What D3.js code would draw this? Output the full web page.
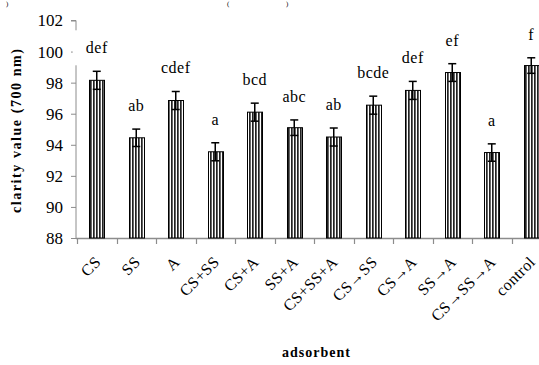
<!DOCTYPE html>
<html>
<head>
<meta charset="utf-8">
<script src="https://cdn.jsdelivr.net/npm/d3@7"></script>
<style>
  html, body { margin: 0; padding: 0; background: #fff; }
  svg { display: block; }
  text { font-family: "Liberation Serif", "Times New Roman", serif; fill: #000; }
</style>
</head>
<body>
<div id="chart"></div>
<script>
// Clarity value (700 nm) by adsorbent treatment, mean ± error, with significance letters
const categories = ["CS", "SS", "A", "CS+SS", "CS+A", "SS+A", "CS+SS+A", "CS\u2192SS", "CS\u2192A", "SS\u2192A", "CS\u2192SS\u2192A", "control"];
const clarity = [98.15, 94.45, 96.85, 93.55, 96.1, 95.1, 94.5, 96.55, 97.5, 98.65, 93.5, 99.1];
const errors = [0.58, 0.56, 0.58, 0.58, 0.58, 0.5, 0.58, 0.58, 0.58, 0.57, 0.56, 0.5];
const letters = ["def", "ab", "cdef", "a", "bcd", "abc", "ab", "bcde", "def", "ef", "a", "f"];
const yTicks = [88, 90, 92, 94, 96, 98, 100, 102];

const W = 539, H = 365;
const svg = d3.select("#chart").append("svg").attr("width", W).attr("height", H);

// vertical-line hatch used for the bar fill
const defs = svg.append("defs");
const pat = defs.append("pattern").attr("id", "vhatch")
  .attr("patternUnits", "userSpaceOnUse").attr("width", 3).attr("height", 4);
pat.append("rect").attr("width", 3).attr("height", 4).attr("fill", "#fff");
pat.append("rect").attr("x", 0).attr("width", 1).attr("height", 4).attr("fill", "#222");
pat.append("rect").attr("x", 1).attr("width", 1).attr("height", 4).attr("fill", "#666");

const x = d3.scaleBand().domain(categories).range([77, 77 + 12 * 39.5]).padding(0);
const y = d3.scaleLinear().domain([88, 102]).range([238, 20.5]);
const barW = 15;
const axisColor = "#8c8c8c";

// y axis
const yAxis = svg.append("g").attr("transform", "translate(76,0)")
  .call(d3.axisLeft(y).tickValues(yTicks).tickSize(5).tickPadding(8).tickFormat(d3.format("d")));
yAxis.select(".domain").attr("stroke", axisColor).attr("d", `M-5,${y(102)}H0V${y(88)}`);
yAxis.selectAll(".tick line").attr("stroke", axisColor);
yAxis.selectAll(".tick text").style("font-size", "17px").attr("fill", "#000");

// x axis: ticks at category boundaries
const xg = svg.append("g").attr("transform", `translate(0,${y(88)})`);
xg.append("line").attr("x1", 76).attr("x2", W).attr("y1", 0.5).attr("y2", 0.5)
  .attr("stroke", axisColor).attr("stroke-width", 1.3);
xg.selectAll("line.tk").data(categories).join("line").attr("class", "tk")
  .attr("x1", d => Math.round(x(d)) + 0.5).attr("x2", d => Math.round(x(d)) + 0.5)
  .attr("y1", 0).attr("y2", 6).attr("stroke", axisColor).attr("stroke-width", 1.2);

xg.selectAll("text.cat").data(categories).join("text").attr("class", "cat")
  .attr("text-anchor", "end")
  .style("font-size", "16px").style("letter-spacing", "0.4px")
  .attr("transform", d => `translate(${x(d) + x.bandwidth() / 2 + 5},${25}) rotate(-45)`)
  .text(d => d);

// bars
const cx = d => x(d) + x.bandwidth() / 2;
svg.selectAll("rect.bar").data(categories).join("rect").attr("class", "bar")
  .attr("x", d => Math.round(cx(d) - barW / 2) + 0.5)
  .attr("y", (d, i) => y(clarity[i]))
  .attr("width", barW)
  .attr("height", (d, i) => y(88) - y(clarity[i]))
  .attr("fill", "url(#vhatch)")
  .attr("stroke", "#000").attr("stroke-width", 1);

// error bars
const eb = svg.selectAll("g.err").data(categories).join("g").attr("class", "err")
  .attr("stroke", "#000").attr("stroke-width", 1.5);
eb.append("line").attr("x1", d => cx(d)).attr("x2", d => cx(d))
  .attr("y1", (d, i) => y(clarity[i] + errors[i])).attr("y2", (d, i) => y(clarity[i] - errors[i]));
eb.append("line").attr("x1", d => cx(d) - 4).attr("x2", d => cx(d) + 4)
  .attr("y1", (d, i) => y(clarity[i] + errors[i])).attr("y2", (d, i) => y(clarity[i] + errors[i]));
eb.append("line").attr("x1", d => cx(d) - 4).attr("x2", d => cx(d) + 4)
  .attr("y1", (d, i) => y(clarity[i] - errors[i])).attr("y2", (d, i) => y(clarity[i] - errors[i]));

// significance letters on white label boxes
const lab = svg.selectAll("g.lab").data(categories).join("g").attr("class", "lab")
  .attr("transform", (d, i) => `translate(${cx(d)},${y(clarity[i] + errors[i]) - 18})`);
lab.append("rect").attr("x", -24).attr("y", -23).attr("width", 48).attr("height", 35).attr("fill", "#fff");
lab.append("text").attr("text-anchor", "middle")
  .style("font-size", "16px").style("letter-spacing", "0.5px")
  .text((d, i) => letters[i]);

// axis titles
svg.append("text").attr("transform", "translate(21,131) rotate(-90)")
  .attr("text-anchor", "middle").style("font-size", "14px").style("font-weight", "bold")
  .attr("textLength", 164).attr("lengthAdjust", "spacing")
  .text("clarity value (700 nm)");
svg.append("text").attr("x", 316).attr("y", 357)
  .attr("text-anchor", "middle").style("font-size", "14px").style("font-weight", "bold")
  .attr("textLength", 68).attr("lengthAdjust", "spacing")
  .text("adsorbent");

// parentheses left over from the line above the chart
svg.append("text").attr("x", 6).attr("y", 6).style("font-size", "7px").text(")");
svg.append("text").attr("x", 227).attr("y", 6).style("font-size", "7px").text("(");
svg.append("text").attr("x", 286).attr("y", 6).style("font-size", "7px").text(")");
</script>
</body>
</html>
